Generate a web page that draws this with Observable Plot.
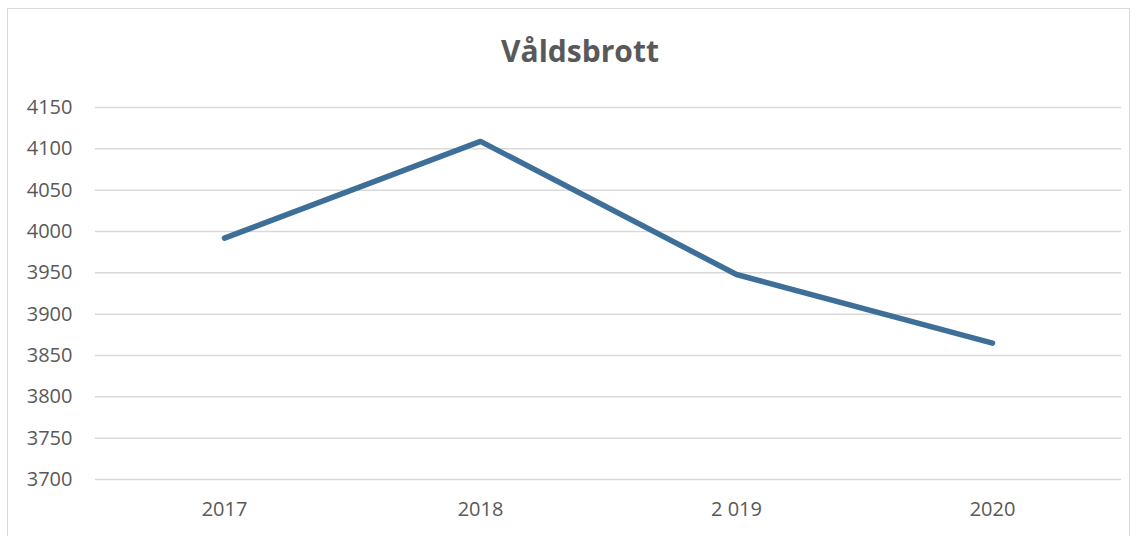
<!DOCTYPE html>
<html>
<head>
<meta charset="utf-8">
<script src="https://cdn.jsdelivr.net/npm/d3@7"></script>
<script src="https://cdn.jsdelivr.net/npm/@observablehq/plot@0.6"></script>
<style>
  html, body { margin: 0; padding: 0; background: #fff; }
  #wrap { position: relative; width: 1139px; height: 536px; overflow: hidden; font-family: "Open Sans", sans-serif; }
  #frame { position: absolute; left: 7px; top: 8px; width: 1123px; height: 540px; border: 1px solid #d9d9d9; box-sizing: border-box; }
  #title { position: absolute; left: 0; width: 1160px; top: 30px; text-align: center; font-size: 30px; font-weight: bold; color: #595959; }
  #chart { position: absolute; left: 0; top: 0; }
</style>
</head>
<body>
<div id="wrap">
  <div id="frame"></div>
  <div id="title">Våldsbrott</div>
  <div id="chart"></div>
</div>
<script>
const years = ["2017", "2018", "2 019", "2020"];
const values = [3992, 4109, 3948, 3865];
const yTicks = [3700, 3750, 3800, 3850, 3900, 3950, 4000, 4050, 4100, 4150];

const data = years.map((y, i) => ({year: y, value: values[i]}));

const chart = Plot.plot({
  width: 1139,
  height: 536,
  marginLeft: 95,
  marginRight: 18,
  marginTop: 107,
  marginBottom: 57,
  style: {fontFamily: "'Open Sans', sans-serif", fontSize: "20px", color: "#595959", background: "transparent", overflow: "visible"},
  x: {type: "point", domain: years, padding: 0.5, label: null, tickSize: 0, tickPadding: 22},
  y: {domain: [3700, 4150], ticks: yTicks, label: null, tickSize: 0, tickPadding: 23, tickFormat: d3.format("d")},
  marks: [
    Plot.ruleY(yTicks, {stroke: "#d9d9d9", strokeWidth: 1.5}),
    Plot.axisY({ticks: yTicks, tickFormat: d3.format("d"), tickSize: 0, tickPadding: 23, label: null, fill: "#595959"}),
    Plot.axisX({tickSize: 0, tickPadding: 22, label: null, fill: "#595959"}),
    Plot.line(data, {x: "year", y: "value", stroke: "#3e6f98", strokeWidth: 5.5, strokeLinecap: "round", strokeLinejoin: "round"})
  ]
});
document.getElementById("chart").appendChild(chart);
</script>
</body>
</html>
